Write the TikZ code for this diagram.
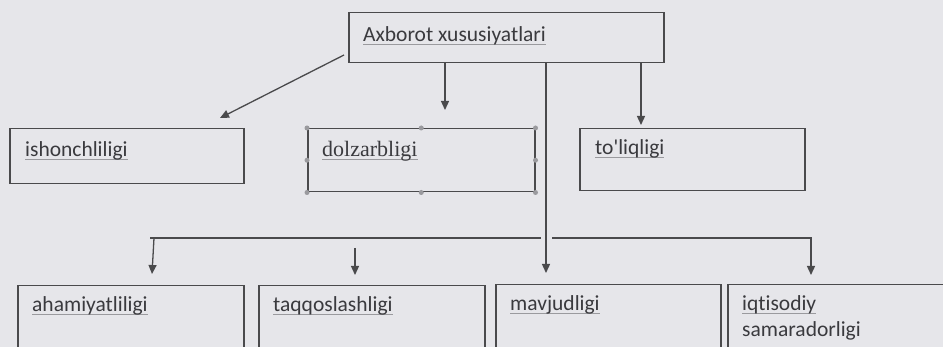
\documentclass[tikz,border=0pt]{standalone}
\usepackage{fontspec}
\setmainfont{Carlito}[Ligatures={TeXOff,NoCommon}]
\newfontfamily\serifface{Liberation Serif}
\usetikzlibrary{arrows.meta}
\definecolor{paper}{HTML}{E6E6EA}
\definecolor{ink}{HTML}{4A4A4C}
\definecolor{txt}{HTML}{3A3A3E}
\definecolor{handle}{HTML}{9A9A9E}
% underlined word with a soft grey rule
\newcommand{\uword}[1]{\setbox0\hbox{#1}\rlap{\color{handle}\rule[-3.2pt]{\wd0}{1.3pt}}\box0}
\tikzset{
  box/.style={draw=ink, line width=1.5pt, inner sep=0pt, anchor=north west},
  lbl/.style={inner sep=0pt, anchor=base west, text=txt, font=\fontsize{21.5}{24}\selectfont},
  arr/.style={draw=ink, line width=1.3pt, -{Triangle[length=9pt,width=8pt]}},
  link/.style={draw=ink, line width=1.3pt},
  grip/.style={circle, fill=handle, inner sep=0pt, minimum size=5pt}
}
\begin{document}
\begin{tikzpicture}[x=1pt,y=-1pt]
\useasboundingbox (0,0) rectangle (943,347);
\fill[paper] (0,0) rectangle (943,347);
\clip (0,0) rectangle (943,347);

% boxes
\node[box, minimum width=315pt, minimum height=50pt] (top) at (348,12) {};
\node[box, minimum width=234pt, minimum height=55pt] (ish) at (9,128) {};
\node[box, minimum width=227pt, minimum height=63pt] (dol) at (307,128) {};
\node[box, minimum width=225pt, minimum height=62pt] (tol) at (579,128) {};
\node[box, minimum width=226pt, minimum height=80pt] (aha) at (17,285) {};
\node[box, minimum width=226pt, minimum height=80pt] (taq) at (258,285) {};
\node[box, minimum width=225pt, minimum height=80pt] (mav) at (495,284) {};
\node[box, minimum width=240pt, minimum height=80pt] (iqt) at (727,284) {};

% selection grips on the highlighted box
\foreach \a in {north west,north,north east,east,south east,south,south west,west}
  \node[grip] at (dol.\a) {};

% labels
\node[lbl] (ttop) at (363,42) {\uword{Axborot xususiyatlari}};
\node[lbl] (tish) at (25,157) {\uword{ishonchliligi}};
\node[lbl, font=\serifface\fontsize{22}{24}\selectfont] (tdol) at (322,157) {\uword{dolzarbligi}};
\node[lbl] (ttol) at (595,155) {\uword{to'liqligi}};
\node[lbl] (taha) at (32,312) {\uword{ahamiyatliligi}};
\node[lbl] (ttaq) at (273,312) {\uword{taqqoslashligi}};
\node[lbl] (tmav) at (510,311) {\uword{mavjudligi}};
\node[lbl] (tiqt) at (742,311) {\uword{iqtisodiy}};
\node[lbl] (tsam) at (742,337) {samaradorligi};

% free ends of the connectors
\coordinate (s1) at (344,55);
\coordinate (e1) at (220,118);
\coordinate (e2) at (445,110);
\coordinate (e3) at (641,125);
\coordinate (e4) at (546,273);
\coordinate (b0) at (150,238);
\coordinate (b1) at (541,238);
\coordinate (b2) at (552,238);
\coordinate (b3) at (811,238);
\coordinate (e5) at (152,274);
\coordinate (f1) at (355,248);
\coordinate (e6) at (355,275);
\coordinate (e7) at (811,275);

% connectors from the top box
\draw[arr] (s1) -- (e1);
\draw[arr] (top.south -| e2) -- (e2);
\draw[arr] (top.south -| e3) -- (e3);
\draw[arr] (top.south -| e4) -- (e4);

% lower branch bar
\draw[link] (b0) -- (b1);
\draw[arr] (b2) -- (b3) -- (e7);
\draw[arr] (b0 -| e5) ++(2,0) -- (e5);
\draw[arr] (f1) -- (e6);
\end{tikzpicture}
\end{document}
